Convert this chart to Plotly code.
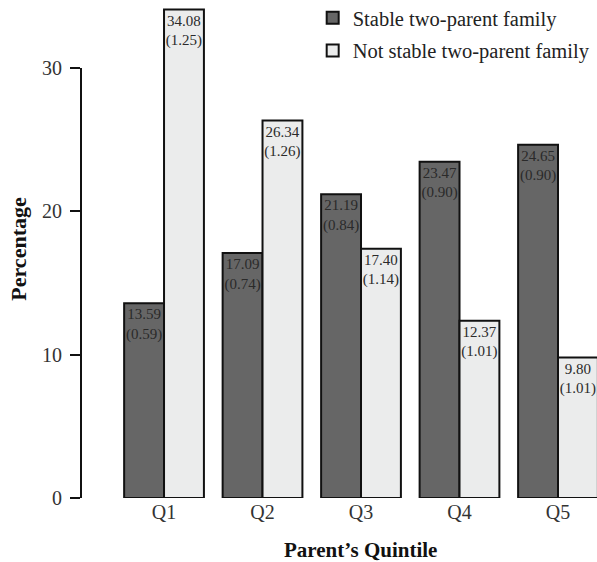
import plotly.graph_objects as go

categories = ["Q1", "Q2", "Q3", "Q4", "Q5"]
stable = [13.59, 17.09, 21.19, 23.47, 24.65]
stable_se = [0.59, 0.74, 0.84, 0.90, 0.90]
not_stable = [34.08, 26.34, 17.40, 12.37, 9.80]
not_stable_se = [1.25, 1.26, 1.14, 1.01, 1.01]
y_ticks = [0, 10, 20, 30]

FONT = "Liberation Serif"

def labels(vals, ses):
    return [f"{v:.2f}<br>({s:.2f})" for v, s in zip(vals, ses)]

fig = go.Figure()
fig.add_trace(go.Bar(
    x=categories, y=stable, name="Stable two-parent family",
    marker=dict(color="#666666", line=dict(color="#111111", width=2)),
    text=labels(stable, stable_se), textposition="inside", insidetextanchor="end",
    textangle=0, textfont=dict(family=FONT, size=15, color="#2a2a2a"),
    legendgroup="a", constraintext="none", cliponaxis=False,
))
fig.add_trace(go.Bar(
    x=categories, y=not_stable, name="Not stable two-parent family",
    marker=dict(color="#ebecec", line=dict(color="#111111", width=2)),
    text=labels(not_stable, not_stable_se), textposition="inside", insidetextanchor="end",
    textangle=0, textfont=dict(family=FONT, size=15, color="#2a2a2a"),
    legendgroup="b", constraintext="none", cliponaxis=False,
))

fig.add_shape(type="line", xref="paper", yref="y", x0=0, x1=0, y0=0, y1=30,
              line=dict(color="#111111", width=2))

fig.update_layout(
    width=597, height=562,
    margin=dict(l=81, r=0, t=0, b=64, autoexpand=False),
    plot_bgcolor="white", paper_bgcolor="white",
    barmode="group", bargap=0.19, bargroupgap=0,
    font=dict(family=FONT, size=20, color="#333333"),
    showlegend=True,
    legend=dict(x=0.449, y=1.004, xanchor="left", yanchor="top",
                font=dict(family=FONT, size=20.5, color="#222222"),
                tracegroupgap=3, bgcolor="rgba(0,0,0,0)"),
    xaxis=dict(range=[-0.843, 4.396], showline=False, showgrid=False, ticks="",
               automargin=False,
               tickfont=dict(family=FONT, size=20, color="#333333"), zeroline=False),
    yaxis=dict(range=[0, 34.75], tickvals=y_ticks, ticks="outside", ticklen=10,
               tickwidth=2, tickcolor="#111111", showline=False, showgrid=False,
               zeroline=False, ticklabelstandoff=4, automargin=False,
               tickfont=dict(family=FONT, size=20, color="#333333"),
               title=dict(text="<b>Percentage</b>", font=dict(family=FONT, size=22, color="#111111"),
                          standoff=9)),
)
fig.add_annotation(text="<b>Parent’s Quintile</b>", xref="paper", yref="paper",
                   x=0.541, y=-0.105, xanchor="center", yanchor="middle", showarrow=False,
                   font=dict(family=FONT, size=21, color="#111111"))

fig.write_html("out.html", config={"displayModeBar": False},
               post_script="document.body.style.margin='0px';document.body.style.padding='0px';")
